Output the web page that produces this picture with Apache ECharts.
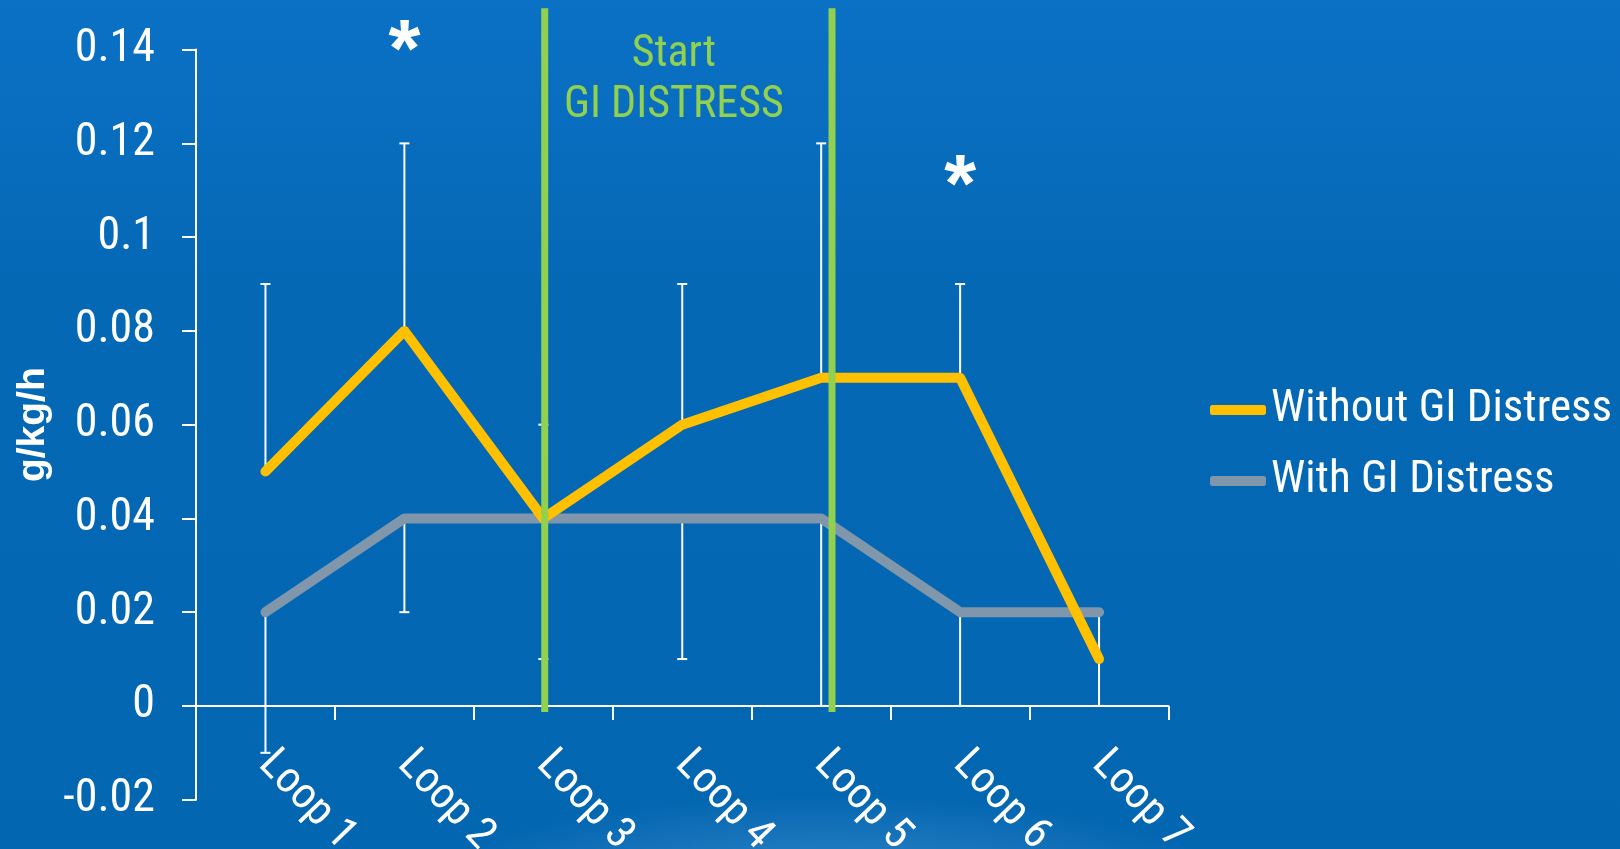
<!DOCTYPE html>
<html>
<head>
<meta charset="utf-8">
<script src="https://cdn.jsdelivr.net/npm/echarts@6/dist/echarts.min.js"></script>
<style>
  html, body { margin: 0; padding: 0; background: #0568B5; }
  #chart { width: 1620px; height: 849px; }
</style>
</head>
<body>
<div id="chart"></div>
<script>
// Loops of the protocol
const loops = ['Loop 1', 'Loop 2', 'Loop 3', 'Loop 4', 'Loop 5', 'Loop 6', 'Loop 7'];

// Mean oxidation rate (g/kg/h)
const withoutGI = [0.05, 0.08, 0.04, 0.06, 0.07, 0.07, 0.01];
const withGI = [0.02, 0.04, 0.04, 0.04, 0.04, 0.02, 0.02];

// Error bar ends: upward for the group without distress, downward for the group with distress
const withoutUpper = [0.09, 0.12, 0.06, 0.09, 0.12, 0.09, 0.02];
const withLower = [-0.01, 0.02, 0.01, 0.01, 0.0, 0.0, 0.0];

// Significance markers
const sigMarks = ['', '*', '', '', '', '*', ''];
const sigHeight = [null, 0.1391, null, null, null, 0.1105, null];

// Window of GI distress, on a continuous 0..7 loop scale
const distressBounds = [2.51, 4.578];
const distressSpan = [-0.0013, 0.1488];
const distressText = ['Start', 'GI DISTRESS'];
const distressTextAt = [3.44, 0.1335];

// Value axis ticks
const yMin = -0.02, yMax = 0.14, yStep = 0.02;

const NARROW = '"Liberation Sans Narrow", "Roboto Condensed", "DejaVu Sans Condensed", sans-serif';
const WHITE = '#FFFFFF';
const YELLOW = '#FFC000';
const GREY = '#7F96AB';
const GREEN = '#92D050';

const chart = echarts.init(document.getElementById('chart'), null, { renderer: 'canvas' });

function errorBars(values, ends) {
  return values.map((v, i) => [i, v, ends[i]]);
}

function renderErrorBar(params, api) {
  const i = api.value(0);
  const p0 = api.coord([i, api.value(1)]);
  const p1 = api.coord([i, api.value(2)]);
  const half = 5;
  const style = { stroke: WHITE, lineWidth: 2 };
  return {
    type: 'group',
    children: [
      { type: 'line', shape: { x1: p0[0], y1: p0[1], x2: p1[0], y2: p1[1] }, style },
      { type: 'line', shape: { x1: p1[0] - half, y1: p1[1], x2: p1[0] + half, y2: p1[1] }, style }
    ]
  };
}

// Significance points that carry a marker
const sigPoints = sigHeight
  .map((v, i) => ({ i, v, mark: sigMarks[i] }))
  .filter(p => p.v !== null && p.mark);

// Free-standing text placed at a data position
function renderNote(texts, font, color, size, weight, lineHeight) {
  return function (params, api) {
    const p = api.coord([api.value(0), api.value(1)]);
    return {
      type: 'text',
      x: p[0], y: p[1],
      style: {
        text: texts[params.dataIndex],
        fill: color,
        fontFamily: font,
        fontSize: size,
        fontWeight: weight,
        lineHeight: lineHeight,
        align: 'center',
        verticalAlign: 'middle'
      }
    };
  };
}

const narrowText = (size, color) => ({ color, fontSize: size, fontFamily: NARROW });

const option = {
  backgroundColor: new echarts.graphic.LinearGradient(0, 0, 0, 1, [
    { offset: 0, color: '#0B71C5' },
    { offset: 0.35, color: '#0568B5' },
    { offset: 1, color: '#0366B1' }
  ]),
  animation: false,
  graphic: [{
    type: 'rect',
    silent: true,
    z: -1,
    x: 830, y: 900,
    scaleY: 0.25,
    shape: { x: -420, y: -420, width: 840, height: 840 },
    style: {
      fill: new echarts.graphic.RadialGradient(0.5, 0.5, 0.5, [
        { offset: 0, color: 'rgba(120,180,230,0.45)' },
        { offset: 1, color: 'rgba(120,180,230,0)' }
      ])
    }
  }],
  grid: {
    left: 196, top: 49.6, right: 451.5, bottom: 49.3,
    outerBoundsMode: 'none'
  },
  legend: {
    data: ['Without GI Distress', 'With GI Distress'],
    orient: 'vertical',
    left: 1205,
    top: 380,
    icon: 'roundRect',
    itemWidth: 56,
    itemHeight: 10,
    itemGap: 21,
    textStyle: Object.assign(narrowText(45, WHITE), { lineHeight: 50 })
  },
  xAxis: [{
    type: 'category',
    data: loops,
    boundaryGap: true,
    axisLine: { onZero: true, lineStyle: { color: WHITE, width: 2 } },
    axisTick: { show: true, length: 14, lineStyle: { color: WHITE, width: 2 } },
    axisLabel: Object.assign(narrowText(44, WHITE), { rotate: -46, margin: -42, interval: 0 }),
    splitLine: { show: false }
  }, {
    type: 'value',
    min: 0, max: 7,
    show: false
  }],
  yAxis: {
    type: 'value',
    min: yMin, max: yMax, interval: yStep,
    name: 'g/kg/h',
    nameLocation: 'middle',
    nameRotate: 90,
    nameGap: 111,
    nameTextStyle: { color: WHITE, fontSize: 39, fontWeight: 'bold', fontFamily: '"Liberation Sans", Arial, sans-serif' },
    axisLine: { show: true, onZero: false, lineStyle: { color: WHITE, width: 2 } },
    axisTick: { show: true, length: 14, lineStyle: { color: WHITE, width: 2 } },
    axisLabel: Object.assign(narrowText(46, WHITE), {
      margin: 41,
      formatter: v => String(Math.round(v * 100) / 100)
    }),
    splitLine: { show: false }
  },
  series: [
    {
      name: 'withoutError', type: 'custom', z: 2,
      data: errorBars(withoutGI, withoutUpper),
      renderItem: renderErrorBar
    },
    {
      name: 'withError', type: 'custom', z: 2,
      data: errorBars(withGI, withLower),
      renderItem: renderErrorBar
    },
    {
      name: 'With GI Distress', type: 'line', z: 3,
      data: withGI,
      color: GREY,
      symbol: 'none',
      lineStyle: { color: GREY, width: 10, cap: 'round', join: 'round' }
    },
    {
      name: 'Without GI Distress', type: 'line', z: 4,
      data: withoutGI,
      color: YELLOW,
      symbol: 'none',
      lineStyle: { color: YELLOW, width: 10, cap: 'round', join: 'round' }
    },
    ...distressBounds.map((b, k) => ({
      name: 'distress' + k, type: 'line', z: 5,
      xAxisIndex: 1,
      clip: false,
      symbol: 'none',
      data: distressSpan.map(v => [b, v]),
      lineStyle: { color: GREEN, width: 7, cap: 'butt' }
    })),
    {
      name: 'distressLabel', type: 'custom', z: 6,
      xAxisIndex: 1,
      clip: false,
      data: [distressTextAt],
      renderItem: renderNote([distressText.join('\n')], NARROW, GREEN, 44, 'normal', 51)
    },
    {
      name: 'significance', type: 'custom', z: 6,
      clip: false,
      data: sigPoints.map(p => [p.i, p.v]),
      renderItem: renderNote(sigPoints.map(p => p.mark), '"Liberation Sans", Arial, sans-serif', WHITE, 82, 'bold', 82)
    }
  ]
};

chart.setOption(option);
</script>
</body>
</html>
